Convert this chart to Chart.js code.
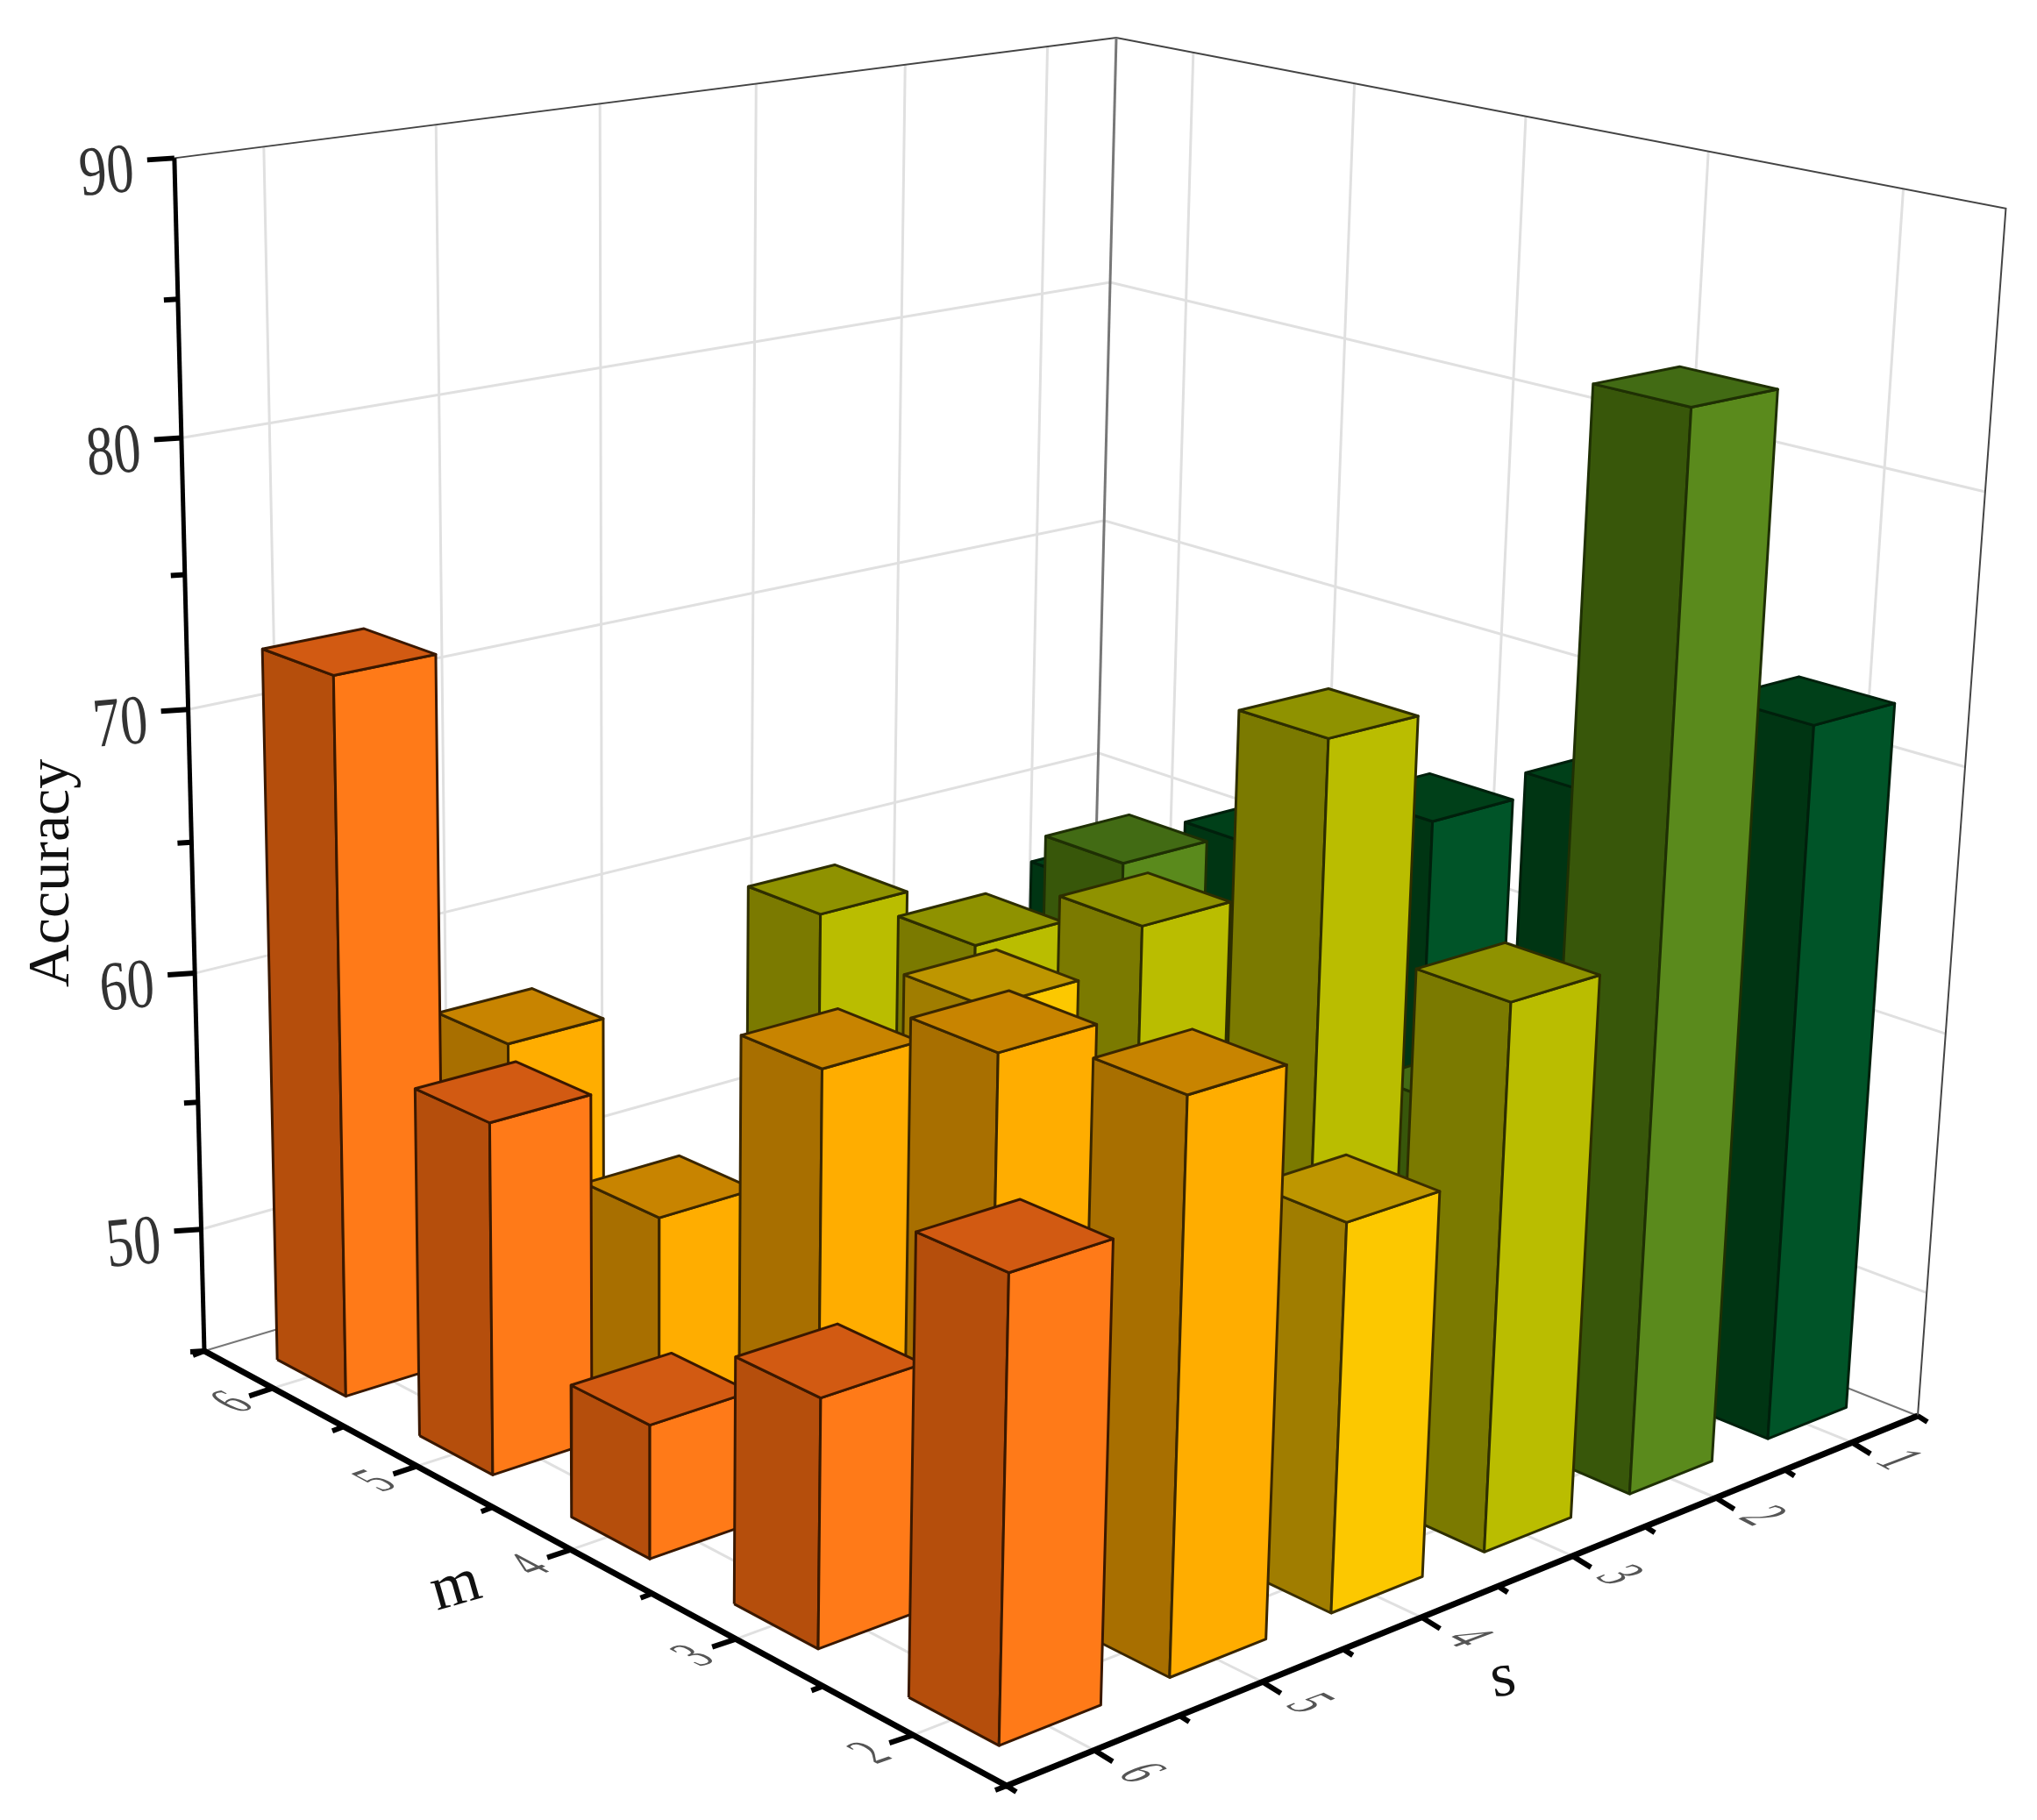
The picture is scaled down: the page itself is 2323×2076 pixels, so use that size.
<!DOCTYPE html>
<html>
<head>
<meta charset="utf-8">
<title>Accuracy by s and m</title>
<script src="https://cdn.jsdelivr.net/npm/chart.js@4/dist/chart.umd.min.js"></script>
<style>
  html, body { margin: 0; padding: 0; background: #fff; }
  canvas { display: block; }
</style>
</head>
<body>
<canvas id="chart" width="2323" height="2076"></canvas>
<script>
// categories and ticks
var mValues = [6, 5, 4, 3, 2];
var sValues = [1, 2, 3, 4, 5, 6];
var mMinor = [6.5, 5.5, 4.5, 3.5, 2.5, 1.5];
var sMinor = [0.5, 1.5, 2.5, 3.5, 4.5, 5.5, 6.5];
var zMajor = [50, 60, 70, 80, 90];
var zMinor = [55, 65, 75, 85];

// accuracy per s, in the order of mValues
var accS1 = [57, 60.9, 64.2, 67.2, 72.1];
var accS2 = [55, 61.8, 56, 57, 84.5];
var accS3 = [59, 60.1, 63.2, 72.3, 65.2];
var accS4 = [47, 54, 61.8, 60.5, 59.2];
var accS5 = [57.1, 53, 61.2, 64.3, 65.4];
var accS6 = [72.5, 58.4, 50.1, 54.1, 61.3];
var rows = [accS1, accS2, accS3, accS4, accS5, accS6];

// [right face, left face, top face] per s
var rowColors = [
  ['#005428', '#003513', '#004019'],
  ['#5a8a1c', '#38570a', '#426b14'],
  ['#babd00', '#7b7a00', '#8f9200'],
  ['#fcc800', '#a07d00', '#be9600'],
  ['#ffad00', '#a86f00', '#c88400'],
  ['#ff7a18', '#b54e0c', '#d25a12']
];
var edgeColors = ['#00200c', '#1f3004', '#2e2e00', '#3a2e00', '#3a2600', '#3a1800'];

// axis ranges and box corners on the page
var sRange = [0.5, 6.5], mRange = [1.5, 6.5], zRange = [45.15, 90];
var floorZ = zRange[0];
var halfS = 0.295, halfM = 0.245, barShift = 0.012;
var D = [1243, 1240], A = [233, 1541], B = [1148, 2037], C = [2187, 1615];
var G = [1273, 43], E = [201.5, 179], F = [2290, 241];

// perspective map from the unit box, D is the origin
function makeProjection() {
  var dx1 = A[0] - B[0], dx2 = C[0] - B[0], sx = D[0] - A[0] + B[0] - C[0];
  var dy1 = A[1] - B[1], dy2 = C[1] - B[1], sy = D[1] - A[1] + B[1] - C[1];
  var den = dx1 * dy2 - dx2 * dy1;
  var g = (sx * dy2 - dx2 * sy) / den;
  var h = (dx1 * sy - sx * dy1) / den;
  var a = A[0] - D[0] + g * A[0], b = C[0] - D[0] + h * C[0];
  var d = A[1] - D[1] + g * A[1], e = C[1] - D[1] + h * C[1];
  var w1 = (E[0] * (g + 1) - a - G[0]) / (G[0] - E[0]);
  var w2 = (F[0] * (h + 1) - b - G[0]) / (G[0] - F[0]);
  var cw = (w1 + w2) / 2;
  var cx = G[0] * (1 + cw) - D[0], cy = G[1] * (1 + cw) - D[1];
  return function (s, m, z) {
    var p = (s - sRange[0]) / (sRange[1] - sRange[0]);
    var q = (mRange[1] - m) / (mRange[1] - mRange[0]);
    var r = (z - zRange[0]) / (zRange[1] - zRange[0]);
    var w = g * p + h * q + cw * r + 1;
    return { x: (a * p + b * q + cx * r + D[0]) / w, y: (d * p + e * q + cy * r + D[1]) / w };
  };
}
var project = makeProjection();

var datasets = [];

function addLine(points, color, width) {
  datasets.push({
    data: points, showLine: true, fill: false, borderColor: color, borderWidth: width,
    pointRadius: 0, tension: 0, borderCapStyle: 'butt'
  });
}

function addFace(points, color, edge) {
  datasets.push({
    data: points.concat([points[0]]), showLine: true, fill: 'shape', backgroundColor: color,
    borderColor: edge, borderWidth: 3, pointRadius: 0, tension: 0, borderJoinStyle: 'round'
  });
}

function offset(p, dx, dy) {
  return { x: p.x + dx, y: p.y + dy };
}

// wall and floor grid
var gridColor = '#e0e0e0';
zMajor.slice(0, 4).forEach(function (z) {
  addLine([project(6.5, 6.5, z), project(0.5, 6.5, z), project(0.5, 1.5, z)], gridColor, 3);
});
sValues.forEach(function (s) {
  addLine([project(s, 1.5, floorZ), project(s, 6.5, floorZ), project(s, 6.5, 90)], gridColor, 3);
});
mValues.forEach(function (m) {
  addLine([project(6.5, m, floorZ), project(0.5, m, floorZ), project(0.5, m, 90)], gridColor, 3);
});

// thin box frame
addLine([project(6.5, 6.5, 90), project(0.5, 6.5, 90), project(0.5, 1.5, 90), project(0.5, 1.5, floorZ)], '#444444', 2);
addLine([project(0.5, 6.5, 90), project(0.5, 6.5, floorZ)], '#777777', 3);
addLine([project(6.5, 6.5, floorZ), project(0.5, 6.5, floorZ), project(0.5, 1.5, floorZ)], '#777777', 2);

// bars, back to front
rows.forEach(function (row, si) {
  var s = sValues[si] - barShift;
  row.forEach(function (v, mi) {
    var m = mValues[mi] - barShift;
    var s0 = s - halfS, s1 = s + halfS, m0 = m - halfM, m1 = m + halfM;
    var colors = rowColors[si], edge = edgeColors[si];
    addFace([project(s1, m1, floorZ), project(s1, m0, floorZ), project(s1, m0, v), project(s1, m1, v)], colors[1], edge);
    addFace([project(s1, m0, floorZ), project(s0, m0, floorZ), project(s0, m0, v), project(s1, m0, v)], colors[0], edge);
    addFace([project(s1, m1, v), project(s1, m0, v), project(s0, m0, v), project(s0, m1, v)], colors[2], edge);
  });
});

// heavy axes and ticks
addLine([project(6.5, 6.5, 90), project(6.5, 6.5, floorZ)], '#000000', 5);
addLine([project(6.5, 6.5, floorZ), project(6.5, 1.5, floorZ), project(0.5, 1.5, floorZ)], '#000000', 7);
zMajor.forEach(function (z) {
  var p = project(6.5, 6.5, z);
  addLine([p, offset(p, -31, 2)], '#000000', 6);
});
zMinor.concat([floorZ]).forEach(function (z) {
  var p = project(6.5, 6.5, z);
  addLine([p, offset(p, -16, 1)], '#000000', 6);
});
mValues.forEach(function (m) {
  var p = project(6.5, m, floorZ);
  addLine([p, offset(p, -27, 9)], '#000000', 6);
});
mMinor.forEach(function (m) {
  var p = project(6.5, m, floorZ);
  addLine([p, offset(p, -13, 5)], '#000000', 6);
});
sValues.forEach(function (s) {
  var p = project(s, 1.5, floorZ);
  addLine([p, offset(p, 21, 13)], '#000000', 6);
});
sMinor.forEach(function (s) {
  var p = project(s, 1.5, floorZ);
  addLine([p, offset(p, 11, 7)], '#000000', 6);
});

// first dataset is painted last, so flip the list
datasets.reverse();

// axis text
var axisText = {
  id: 'axisText',
  afterDatasetsDraw: function (chart) {
    var ctx = chart.ctx;
    var xs = chart.scales.x, ys = chart.scales.y;
    function px(p) {
      return { x: xs.getPixelForValue(p.x), y: ys.getPixelForValue(p.y) };
    }
    function drawText(text, t, font, color) {
      ctx.save();
      ctx.transform(t[0], t[1], t[2], t[3], t[4], t[5]);
      ctx.font = font;
      ctx.fillStyle = color;
      ctx.textAlign = 'center';
      ctx.textBaseline = 'middle';
      ctx.fillText(text, 0, 0);
      ctx.restore();
    }
    var serif = '"Liberation Serif", serif';
    zMajor.forEach(function (z) {
      var p = px(project(6.5, 6.5, z));
      var cos = 0.995, sin = -0.09;
      drawText(String(z), [cos * 0.78, sin * 0.78, -sin, cos, p.x - 77, p.y + 19], '80px ' + serif, '#333333');
    });
    mValues.forEach(function (m) {
      var p = px(project(6.72, m, floorZ));
      drawText(String(m), [0.85, -0.3, 1.14, 0.61, p.x - 2, p.y + 4], '50px ' + serif, '#555555');
    });
    sValues.forEach(function (s) {
      var p = px(project(s, 1.27, floorZ));
      drawText(String(s), [0.79, 0.42, -1.3, 0.49, p.x, p.y], '50px ' + serif, '#555555');
    });
    var c16 = Math.cos(-16 * Math.PI / 180), s16 = Math.sin(-16 * Math.PI / 180);
    drawText('m', [c16, s16, -s16, c16, 520, 1811], '72px ' + serif, '#111111');
    var c10 = Math.cos(-10 * Math.PI / 180), s10 = Math.sin(-10 * Math.PI / 180);
    drawText('s', [c10, s10, -s10, c10, 1714, 1915], '72px ' + serif, '#111111');
    drawText('Accuracy', [0, -1, 1, 0, 60, 996], '68px ' + serif, '#111111');
  }
};

new Chart(document.getElementById('chart').getContext('2d'), {
  type: 'scatter',
  data: { datasets: datasets },
  plugins: [axisText],
  options: {
    responsive: false,
    animation: false,
    layout: { padding: 0 },
    plugins: { legend: { display: false }, tooltip: { enabled: false } },
    scales: {
      x: { type: 'linear', min: 0, max: 2323, display: false },
      y: { type: 'linear', min: 0, max: 2076, reverse: true, display: false }
    }
  }
});
</script>
</body>
</html>
